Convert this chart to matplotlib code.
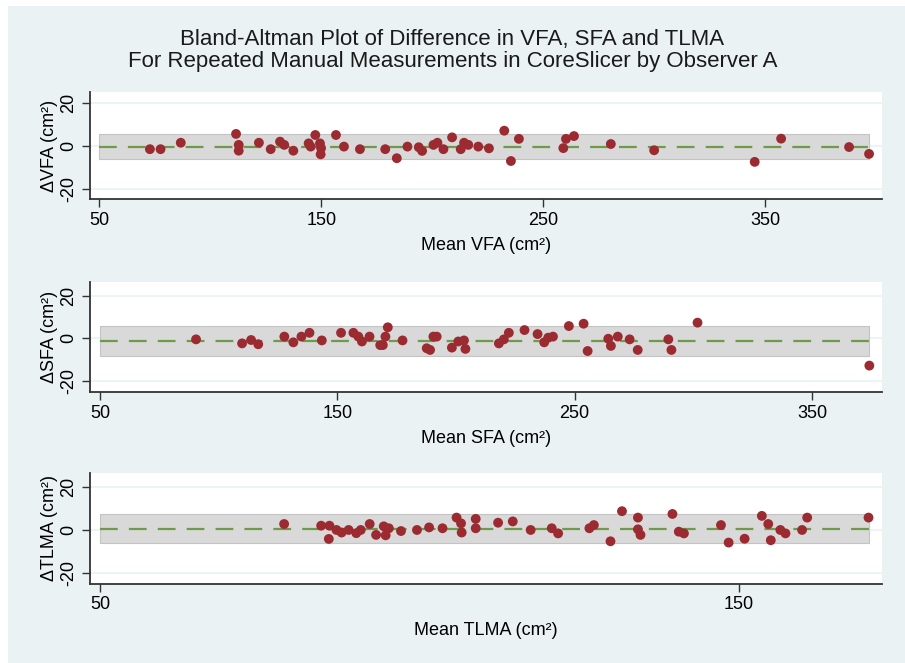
#Bland-Altman plots for VFA, SFA and TLMA (repeated manual measurements)

import matplotlib
matplotlib.use('Agg')
import matplotlib.pyplot as plt
from matplotlib.patches import Rectangle

plt.rcParams['font.family'] = ['Liberation Sans', 'DejaVu Sans']

# VFA: mean of the two readings vs. difference
vfa_mean = [72.8, 77.6, 86.7, 111.6, 112.8, 112.8, 121.9, 127.2, 131.4, 133.3,
	137.4, 144.3, 145.2, 147.3, 149.4, 149.9, 149.7, 156.6, 160.2, 167.4,
	178.8, 184.0, 188.8, 193.9, 195.4, 200.5, 202.3, 205.0, 208.9, 212.8,
	214.3, 216.2, 220.7, 225.5, 232.4, 235.4, 239.0, 259.0, 260.2, 263.8,
	280.4, 299.9, 345.2, 357.1, 387.7, 396.7]
vfa_diff = [-1.5, -1.5, 1.5, 5.6, 0.5, -2.2, 1.5, -1.5, 2.0, 0.5,
	-2.2, 1.2, -0.3, 5.1, 1.2, -1.0, -3.9, 5.1, -0.3, -1.5,
	-1.5, -5.7, -0.3, -0.6, -2.3, 0.5, 1.5, -1.5, 4.0, -1.5,
	1.5, 0.5, -0.3, -1.1, 7.1, -7.0, 3.3, -1.0, 3.3, 4.6,
	0.9, -2.0, -7.4, 3.4, -0.5, -3.7]

# SFA
sfa_mean = [90.5, 109.9, 113.7, 116.7, 127.7, 131.5, 134.9, 138.3, 143.5, 151.6,
	156.8, 158.9, 160.4, 163.6, 168.1, 169.2, 170.3, 171.3, 177.5, 187.7,
	189.1, 190.5, 191.9, 198.3, 201.0, 203.4, 204.0, 218.1, 220.2, 222.3,
	228.9, 234.4, 237.2, 238.9, 240.9, 247.6, 253.8, 255.5, 264.2, 265.3,
	268.2, 273.2, 276.6, 289.5, 290.8, 301.8, 374.2]
sfa_diff = [-0.5, -2.4, -0.8, -2.8, 0.8, -1.9, 0.8, 2.6, -1.0, 2.6,
	2.6, 0.8, -1.5, 0.8, -3.2, -3.2, 0.8, 5.2, -1.0, -4.7,
	-5.5, 0.8, 0.8, -4.4, -1.5, -1.0, -5.0, -2.4, -0.5, 2.6,
	3.9, 2.0, -1.9, 0.3, 0.8, 5.8, 6.9, -6.0, -0.2, -3.6,
	0.8, -0.5, -5.5, -0.5, -5.5, 7.4, -12.9]

# TLMA
tlma_mean = [78.8, 84.6, 85.9, 85.8, 87.0, 87.8, 88.9, 90.1, 90.8, 92.2,
	93.2, 94.4, 94.7, 95.2, 97.1, 99.6, 101.5, 103.6, 105.8, 106.5,
	106.6, 108.8, 108.8, 112.3, 114.6, 117.4, 120.7, 121.7, 126.6, 127.3,
	129.9, 131.7, 134.2, 134.2, 134.6, 139.6, 140.6, 141.4, 147.2, 148.4,
	150.9, 153.6, 154.6, 155.0, 156.5, 157.3, 159.9, 160.7, 170.3]
tlma_diff = [2.8, 2.0, 2.0, -4.2, 0.0, -1.2, 0.0, -1.5, 0.0, 2.8,
	-2.3, 1.7, -2.5, 0.8, -0.5, 0.0, 1.2, 0.8, 5.8, 3.1,
	-1.2, 5.2, 0.8, 3.4, 4.0, 0.0, 0.8, -1.6, 0.8, 2.3,
	-5.3, 8.8, 5.8, 0.3, -2.3, 7.5, -0.8, -1.6, 2.3, -5.9,
	-4.1, 6.6, 2.8, -4.8, 0.0, -1.6, 0.0, 5.8, 5.8]

vfa_lim = (-0.3, -6.2, 5.6)
sfa_lim = (-1.2, -8.4, 6.0)
tlma_lim = (0.5, -5.9, 7.5)

panels = [
	("VFA", vfa_mean, vfa_diff, vfa_lim, [50, 150, 250, 350], (45.8, 402.5), (-24.7, 25.1),
		[0.0994, 0.6998, 0.8751, 0.1614]),
	("SFA", sfa_mean, sfa_diff, sfa_lim, [50, 150, 250, 350], (45.8, 379.5), (-25.4, 26.6),
		[0.0994, 0.4087, 0.8751, 0.1659]),
	("TLMA", tlma_mean, tlma_diff, tlma_lim, [50, 150], (48.4, 172.4), (-25.3, 26.7),
		[0.0994, 0.1192, 0.8751, 0.1674]),
]

bg = '#EAF2F3'
fig = plt.figure(figsize=(9.05, 6.63), dpi=100, facecolor='white')
fig.patches.append(Rectangle((8 / 905, 0), 1, 1 - 6 / 663, transform=fig.transFigure,
	facecolor=bg, edgecolor='none', zorder=-10))

for name, xs, ys, lim, xt, xl, yl, pos in panels:
	ax = fig.add_axes(pos)
	ax.set_facecolor('white')
	for y in [-20, 0, 20]:
		ax.axhline(y, color=bg, lw=1.2, zorder=0)
	mean_d, lo, hi = lim
	ax.fill_between([50, max(xs)], lo, hi, color='#D9D9D9', edgecolor='#C4C4C4', lw=0.8, zorder=1)
	ax.plot([50, max(xs)], [mean_d, mean_d], color='#6F9A4C', lw=1.6, ls=(0, (8, 5)), zorder=2)
	ax.scatter(xs, ys, s=50, color='#9B2A31', edgecolors='none', zorder=3)
	ax.set_xlim(xl)
	ax.set_ylim(yl)
	ax.set_xticks(xt)
	ax.set_yticks([-20, 0, 20])
	ax.set_yticklabels(['-20', '0', '20'], rotation=90, va='center')
	for s in ['top', 'right']:
		ax.spines[s].set_visible(False)
	for s in ['left', 'bottom']:
		ax.spines[s].set_color('#333333')
		ax.spines[s].set_linewidth(1.3)
	ax.tick_params(direction='out', length=6, width=1, color='#333333', labelsize=13, pad=3)
	ax.set_xlabel("Mean %s (cm²)" % name, fontsize=13, labelpad=6)
	ax.set_ylabel("Δ%s (cm²)" % name, fontsize=13, labelpad=2)

fig.text(0.5, 1 - 40 / 663, "Bland-Altman Plot of Difference in VFA, SFA and TLMA",
	ha='center', va='center', fontsize=16, color='#1a1a1a')
fig.text(0.5, 1 - 61 / 663, "For Repeated Manual Measurements in CoreSlicer by Observer A",
	ha='center', va='center', fontsize=16, color='#1a1a1a')

plt.savefig('out.png', dpi=100, facecolor=fig.get_facecolor())
